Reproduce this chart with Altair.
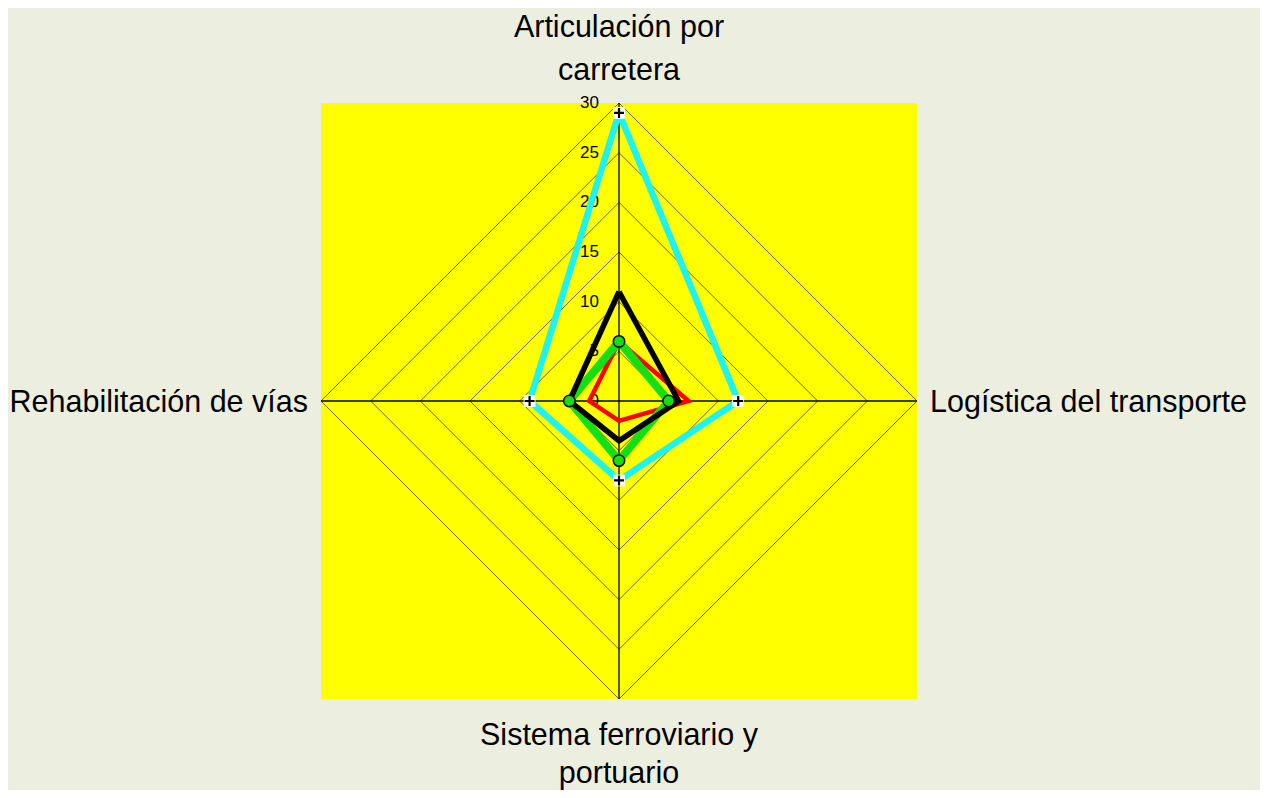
import math
import altair as alt
import pandas as pd

categories = ["Articulación por carretera", "Logística del transporte",
              "Sistema ferroviario y portuario", "Rehabilitación de vías"]
label_lines = [["Articulación por", "carretera"], ["Logística del transporte"],
               ["Sistema ferroviario y", "portuario"], ["Rehabilitación de vías"]]
series_names = ["Serie cian", "Serie roja", "Serie verde", "Serie negra"]
cyan_values = [29, 12, 8, 9]
red_values = [6, 7, 2, 3]
green_values = [6, 5, 6, 5]
black_values = [11, 6, 4, 5]
ticks = [0, 5, 10, 15, 20, 25, 30]
rmax = 30

series_values = [cyan_values, red_values, green_values, black_values]
series_colors = ["#1ff2f2", "#ff0000", "#12e012", "#000000"]
series_widths = [6.5, 4.5, 8, 5.5]

n = len(categories)
angles = [i * 2 * math.pi / n for i in range(n)]


def pos(r, a):
    return round(r * math.sin(a), 6), round(r * math.cos(a), 6)


rows = []
for s, vals in zip(series_names, series_values):
    for k in range(n + 1):
        i = k % n
        x, y = pos(vals[i], angles[i])
        rows.append({"series": s, "order": k, "value": vals[i], "x": x, "y": y})
df_series = pd.DataFrame(rows)

grid_rows = []
for t in ticks[1:]:
    for k in range(n + 1):
        x, y = pos(t, angles[k % n])
        grid_rows.append({"ring": t, "order": k, "x": x, "y": y})
df_grid = pd.DataFrame(grid_rows)

spoke_rows = []
for a in angles:
    x, y = pos(rmax, a)
    spoke_rows.append({"x": 0.0, "y": 0.0, "x2": x, "y2": y})
df_spokes = pd.DataFrame(spoke_rows)

df_ticks = pd.DataFrame({"x": [0.0] * len(ticks), "y": [float(t) for t in ticks],
                         "label": [str(t) for t in ticks]})

lab_rows = []
for i, (lines, a) in enumerate(zip(label_lines, angles)):
    x, y = pos(rmax, a)
    lab_rows.append({"idx": i, "x": x, "y": y, "text": lines})
df_labels = pd.DataFrame(lab_rows)

xs = alt.Scale(domain=[-rmax, rmax], nice=False, zero=False)
ys = alt.Scale(domain=[-rmax, rmax], nice=False, zero=False)
X = alt.X("x:Q", scale=xs, axis=None)
Y = alt.Y("y:Q", scale=ys, axis=None)

FONT = "Liberation Sans"
LFS = 30.5

grid = alt.Chart(df_grid).mark_line(color="#000000", strokeWidth=0.6).encode(
    x=X, y=Y, detail="ring:N", order="order:Q")

spokes = alt.Chart(df_spokes).mark_rule(color="#000000", strokeWidth=1.3).encode(
    x=X, y=Y, x2="x2:Q", y2="y2:Q")

tick_text = alt.Chart(df_ticks).mark_text(
    align="right", baseline="middle", dx=-20, font=FONT, fontSize=17, color="#000000"
).encode(x=X, y=Y, text="label:N")

series_layers = []
for s, c, w in zip(series_names, series_colors, series_widths):
    series_layers.append(
        alt.Chart(df_series[df_series.series == s]).mark_line(
            color=c, strokeWidth=w, strokeJoin="miter"
        ).encode(x=X, y=Y, order="order:Q")
    )

cyan_pts = df_series[(df_series.series == series_names[0]) & (df_series.order < n)]
green_pts = df_series[(df_series.series == series_names[2]) & (df_series.order < n)]

cyan_sq = alt.Chart(cyan_pts).mark_square(color="#ffffff", size=140, opacity=1).encode(x=X, y=Y)
cyan_plus = alt.Chart(cyan_pts).mark_point(
    shape="M-1,0L1,0M0,-1L0,1", filled=False, stroke="#000000", strokeWidth=2.2, size=100, opacity=1
).encode(x=X, y=Y)
green_dots = alt.Chart(green_pts).mark_point(
    shape="circle", filled=True, fill="#12e012", stroke="#000000", strokeWidth=1.5, size=130, opacity=1
).encode(x=X, y=Y)

lab_top = alt.Chart(df_labels[df_labels.idx == 0]).mark_text(
    align="center", baseline="alphabetic", dy=-66, lineHeight=43, font=FONT, fontSize=LFS, color="#000000"
).encode(x=X, y=Y, text="text")
lab_right = alt.Chart(df_labels[df_labels.idx == 1]).mark_text(
    align="left", baseline="alphabetic", dx=13, dy=11, font=FONT, fontSize=LFS, color="#000000"
).encode(x=X, y=Y, text="text")
lab_bottom = alt.Chart(df_labels[df_labels.idx == 2]).mark_text(
    align="center", baseline="alphabetic", dy=46, lineHeight=38, font=FONT, fontSize=LFS, color="#000000"
).encode(x=X, y=Y, text="text")
lab_left = alt.Chart(df_labels[df_labels.idx == 3]).mark_text(
    align="right", baseline="alphabetic", dx=-13, dy=11, font=FONT, fontSize=LFS, color="#000000"
).encode(x=X, y=Y, text="text")

chart = alt.layer(
    grid, spokes, tick_text, *series_layers, cyan_sq, cyan_plus, green_dots,
    lab_top, lab_right, lab_bottom, lab_left
).properties(
    width=596, height=596,
    autosize=alt.AutoSizeParams(type="none"),
    padding={"left": 313, "top": 95, "right": 343, "bottom": 91},
    background="#ECEFDF",
).configure_view(fill="#FFFF00", stroke=None)

chart.save("out.html", embed_options={"renderer": "svg", "actions": False})
